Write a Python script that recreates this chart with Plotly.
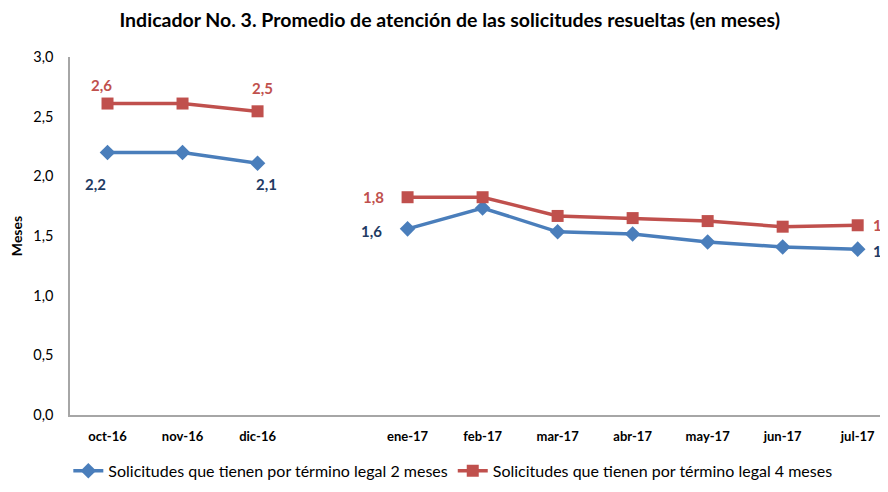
import plotly.graph_objects as go

categories = ["oct-16", "nov-16", "dic-16", "", "ene-17", "feb-17", "mar-17", "abr-17", "may-17", "jun-17", "jul-17"]
serie_2m = [2.20, 2.20, 2.11, None, 1.56, 1.735, 1.535, 1.517, 1.45, 1.408, 1.39]
serie_4m = [2.61, 2.61, 2.545, None, 1.825, 1.825, 1.668, 1.65, 1.625, 1.578, 1.59]
labels_2m = ["2,2", "", "2,1", "", "1,6", "", "", "", "", "", "1,4"]
labels_4m = ["2,6", "", "2,5", "", "1,8", "", "", "", "", "", "1,6"]
name_2m = "Solicitudes que tienen por término legal 2 meses"
name_4m = "Solicitudes que tienen por término legal 4 meses"

# label offsets (pixels) per labeled point: index -> (xshift, yshift, xanchor)
offsets_2m = {0: (-12, -32, "center"), 2: (9, -21, "center"), 4: (-36, -2, "center"), 10: (13, -2, "left")}
offsets_4m = {0: (-6, 19, "center"), 2: (5, 23, "center"), 4: (-34, 0, "center"), 10: (13, 0, "left")}

x = list(range(len(categories)))
font = "Lato, 'Open Sans', sans-serif"
blue, red, navy = "#4A7EBB", "#C0504D", "#1F3B63"

fig = go.Figure()
fig.add_trace(go.Scatter(
    x=x, y=serie_2m, name=name_2m, mode="lines+markers",
    line=dict(color=blue, width=3.5),
    marker=dict(symbol="diamond", size=12, color=blue),
    connectgaps=False,
))
fig.add_trace(go.Scatter(
    x=x, y=serie_4m, name=name_4m, mode="lines+markers",
    line=dict(color=red, width=3.5),
    marker=dict(symbol="square", size=12, color=red),
    connectgaps=False,
))

for vals, labs, offs, col in [(serie_2m, labels_2m, offsets_2m, navy), (serie_4m, labels_4m, offsets_4m, red)]:
    for i, (v, t) in enumerate(zip(vals, labs)):
        if v is None or not t:
            continue
        xs, ys, xa = offs[i]
        fig.add_annotation(x=x[i], y=v, text=f"<b>{t}</b>", showarrow=False,
                           xshift=xs, yshift=ys, xanchor=xa, yanchor="middle",
                           font=dict(color=col, size=15, family=font))

# page body adds 8px offset; figure sized to fill the rest of the window
fig.update_layout(
    width=880, height=484,
    margin=dict(l=60, r=0, t=49, b=77),
    paper_bgcolor="white", plot_bgcolor="white",
    separators=",.",
    font=dict(family=font, color="black", size=13),
    title=dict(text="<b>Indicador No. 3. Promedio de atención de las solicitudes resueltas (en meses)</b>",
               x=0.502, xanchor="center", y=1 - 12 / 484, yanchor="middle",
               font=dict(size=19.5, family=font, color="black")),
    showlegend=True,
    legend=dict(orientation="h", x=0.468, xanchor="center", y=-0.156, yanchor="middle",
                font=dict(size=16, family=font), tracegroupgap=0),
)
fig.update_xaxes(
    range=[-0.5, 10.404], tickmode="array", tickvals=x, ticktext=categories,
    showline=True, linecolor="#A6A6A6", linewidth=1.5, showgrid=False, zeroline=False,
    ticks="", tickfont=dict(size=13, family=font, weight="bold"), ticklabelstandoff=9,
)
fig.update_yaxes(
    range=[0, 3.0], tickvals=[0, 0.5, 1.0, 1.5, 2.0, 2.5, 3.0], tickformat=".1f",
    showline=True, linecolor="#A6A6A6", linewidth=1.5, showgrid=False, zeroline=False,
    ticks="", tickfont=dict(size=14.5, family=font), ticklabelstandoff=12,
    title=dict(text="<b>Meses</b>", font=dict(size=14, family=font), standoff=15),
)

fig.write_html("out.html")
